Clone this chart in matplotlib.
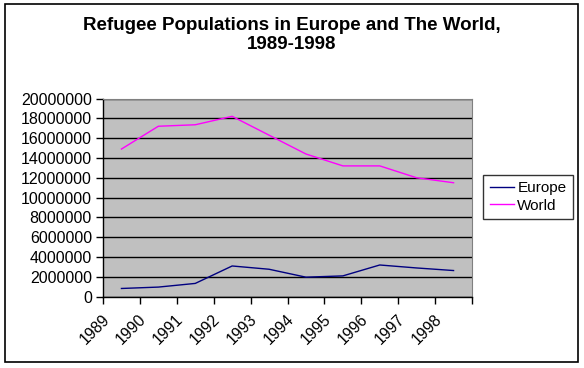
import numpy as np
import matplotlib
matplotlib.use("Agg")
import matplotlib.pyplot as plt
from matplotlib.patches import Rectangle
from matplotlib.ticker import FuncFormatter

years = ["1989", "1990", "1991", "1992", "1993", "1994", "1995", "1996", "1997", "1998"]
europe = [830000, 970000, 1340000, 3100000, 2770000, 1970000, 2100000, 3200000, 2900000, 2640000]
world = [14900000, 17200000, 17350000, 18200000, 16300000, 14400000, 13200000, 13200000, 12000000, 11500000]

plt.rcParams["font.family"] = ["Liberation Sans", "DejaVu Sans"]

fig = plt.figure(figsize=(5.84, 3.68), dpi=100)
fig.patch.set_facecolor("white")
fig.patches.append(Rectangle((5 / 584, 1 - 362 / 368), 573 / 584, 358 / 368,
                             transform=fig.transFigure, fill=False,
                             edgecolor="black", linewidth=1.2))

ax = fig.add_axes([103 / 584, 1 - 296.7 / 368, 369 / 584, 198.2 / 368])
ax.set_facecolor("#C0C0C0")

x = np.arange(len(years)) + 0.5
ax.plot(x, europe, color="#000080", linewidth=1.0, label="Europe")
ax.plot(x, world, color="#FF00FF", linewidth=1.0, label="World")

ax.set_xlim(0, len(years))
ax.set_ylim(0, 20000000)
ax.set_yticks(np.arange(0, 20000001, 2000000))
ax.yaxis.set_major_formatter(FuncFormatter(lambda v, p: f"{int(v)}"))
ax.grid(axis="y", color="black", linewidth=1.0)
ax.set_axisbelow(True)

# tick marks at category boundaries, labels slightly right of them
ax.set_xticks(np.arange(len(years) + 1), minor=True)
ax.set_xticks(np.arange(len(years)) + 0.25)
ax.set_xticklabels(years, rotation=45, ha="right")
ax.tick_params(axis="x", which="major", length=0, pad=11, labelsize=11.3)
ax.tick_params(axis="x", which="minor", length=5, direction="out", width=1)
ax.tick_params(axis="y", length=5, direction="out", width=1, labelsize=11.5, pad=3)

for s in ["top", "right"]:
    ax.spines[s].set_color("#808080")
    ax.spines[s].set_linewidth(0.8)
for s in ["left", "bottom"]:
    ax.spines[s].set_color("black")
    ax.spines[s].set_linewidth(1.0)

fig.text(0.5, 1 - 35 / 368, "Refugee Populations in Europe and The World,\n1989-1998",
         ha="center", va="center", fontsize=13.5, fontweight="bold", linespacing=1.15)

leg = fig.legend(loc="center left", bbox_to_anchor=(483 / 584, 1 - 197 / 368),
                 fontsize=11, frameon=True, fancybox=False, handlelength=1.6,
                 handletextpad=0.2, borderpad=0.45, labelspacing=0.2,
                 borderaxespad=0)
leg.get_frame().set_edgecolor("black")
leg.get_frame().set_linewidth(1.0)

fig.savefig("out.png", dpi=100)
